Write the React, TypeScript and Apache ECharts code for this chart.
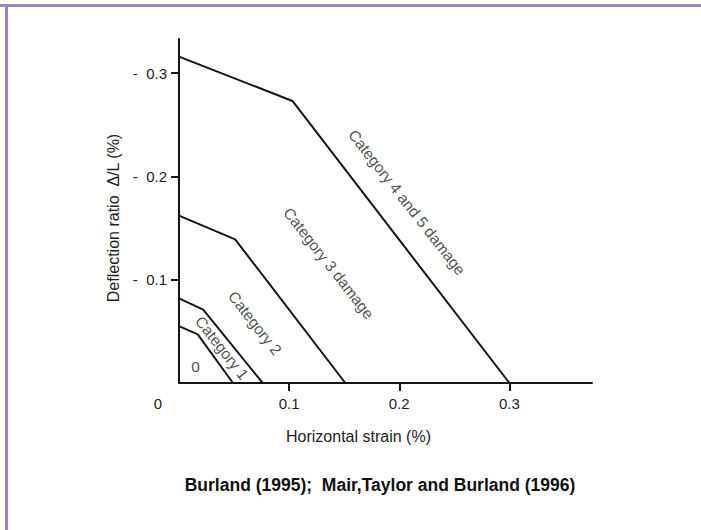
import React, { useEffect, useRef } from "react";
import * as echarts from "echarts";

// Boundary lines (horizontal strain %, deflection ratio %)
const cat45Boundary: [number, number][] = [[0, 0.316], [0.103, 0.273], [0.3, 0]];
const cat3Boundary: [number, number][] = [[0, 0.162], [0.051, 0.139], [0.151, 0]];
const cat2Boundary: [number, number][] = [[0, 0.082], [0.022, 0.071], [0.076, 0]];
const cat1Boundary: [number, number][] = [[0, 0.055], [0.017, 0.047], [0.049, 0]];

// Region labels placed in data coordinates
const regionLabels = ["Category 4 and 5 damage", "Category 3 damage", "Category 2", "Category 1", "0"];
const regionLabelPos: [number, number][] = [[0.207, 0.175], [0.136, 0.116], [0.069, 0.058], [0.039, 0.034], [0.015, 0.016]];
const regionLabelRotate = [-52, -52, -52, -52, 0];

const xTicks = [0.1, 0.2, 0.3];
const xLabels = [0, 0.1, 0.2, 0.3];
const yTicks = [0.1, 0.2, 0.3];

const FONT = "'Liberation Sans', Arial, sans-serif";
const LINE = "#141414";
const TEXT = "#1e1e1e";

export default function App() {
  const ref = useRef<HTMLDivElement>(null);
  useEffect(() => {
    if (!ref.current) return;
    const chart = echarts.init(ref.current, undefined, { renderer: "svg" });
    const lineSeries = (data: [number, number][]) => ({
      type: "line",
      data,
      symbol: "none",
      lineStyle: { color: LINE, width: 2 },
      silent: true,
    });
    chart.setOption({
      animation: false,
      backgroundColor: "#ffffff",
      textStyle: { fontFamily: FONT },
      grid: { left: 179, right: 109, top: 39, bottom: 147 },
      xAxis: {
        type: "value",
        min: 0,
        max: 0.375,
        interval: 0.1,
        splitLine: { show: false },
        axisLine: { lineStyle: { color: LINE, width: 2 } },
        axisTick: { show: true, length: 8, lineStyle: { color: LINE, width: 2 }, customValues: xTicks },
        axisLabel: {
          customValues: xLabels,
          margin: 13,
          color: TEXT,
          fontSize: 15,
          fontFamily: FONT,
          formatter: (v: number) => (v === 0 ? "{o|0}" : String(Math.round(v * 10) / 10)),
          rich: { o: { padding: [0, 42, 0, 0], fontSize: 15, color: TEXT, fontFamily: FONT } },
        },
        name: "Horizontal strain (%)",
        nameLocation: "middle",
        nameGap: 45,
        nameTextStyle: { color: TEXT, fontSize: 16, fontFamily: FONT, padding: [0, 54, 0, 0] },
      },
      yAxis: {
        type: "value",
        min: 0,
        max: 0.333,
        interval: 0.1,
        splitLine: { show: false },
        axisLine: { lineStyle: { color: LINE, width: 2 } },
        axisTick: { show: true, length: 8, lineStyle: { color: LINE, width: 2 }, customValues: yTicks },
        axisLabel: {
          customValues: yTicks,
          margin: 12,
          color: TEXT,
          fontSize: 15,
          fontFamily: FONT,
          formatter: (v: number) => "-  " + String(Math.round(v * 10) / 10),
        },
        name: "Deflection ratio  Δ/L (%)",
        nameLocation: "middle",
        nameGap: 53,
        nameTextStyle: { color: TEXT, fontSize: 16, fontFamily: FONT, padding: [0, 14, 0, 0] },
      },
      series: [
        lineSeries(cat45Boundary),
        lineSeries(cat3Boundary),
        lineSeries(cat2Boundary),
        lineSeries(cat1Boundary),
        {
          type: "scatter",
          symbolSize: 0,
          silent: true,
          data: regionLabels.map((name, i) => ({
            value: regionLabelPos[i],
            label: {
              show: true,
              position: "inside",
              formatter: name,
              rotate: regionLabelRotate[i],
              color: TEXT,
              fontSize: 15.5,
              fontFamily: FONT,
            },
          })),
        },
      ],
      graphic: [
        { type: "rect", shape: { x: 0, y: 4, width: 701, height: 3 }, style: { fill: "#a083c5" } },
        { type: "rect", shape: { x: 5, y: 4, width: 3, height: 526 }, style: { fill: "#a083c5" } },
        {
          type: "text",
          x: 380,
          y: 485,
          style: {
            text: "Burland (1995);  Mair,Taylor and Burland (1996)",
            font: `bold 17.5px ${FONT}`,
            fill: "#111",
            align: "center",
            verticalAlign: "middle",
          },
        },
      ],
    });
    return () => chart.dispose();
  }, []);
  return <div ref={ref} style={{ position: "fixed", left: 0, top: 0, width: 701, height: 530 }} />;
}
